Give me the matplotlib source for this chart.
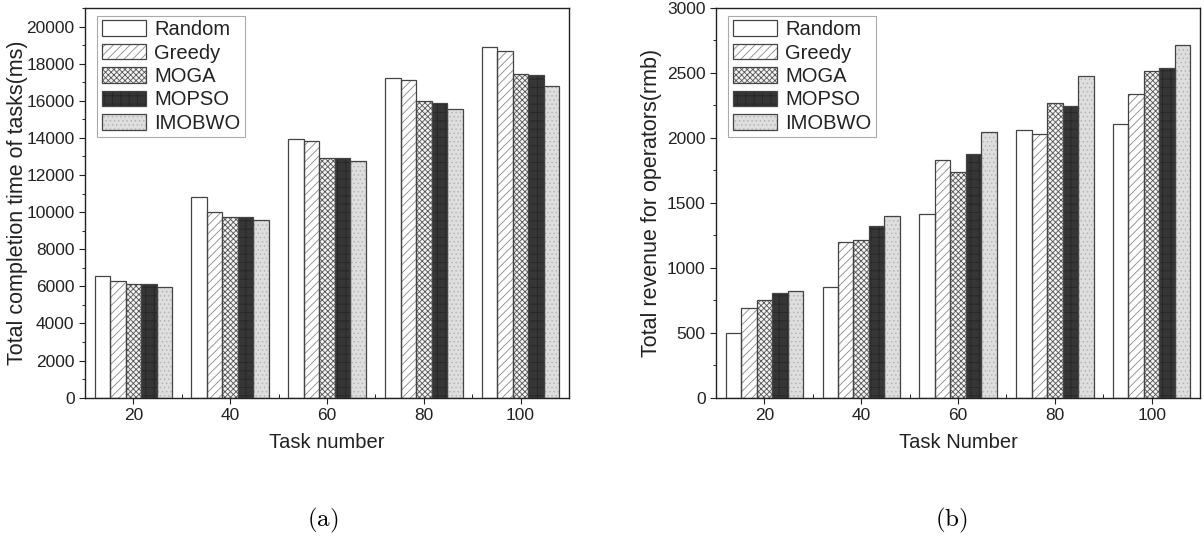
import numpy as np
import matplotlib
matplotlib.use('Agg')
import matplotlib.pyplot as plt
from matplotlib.ticker import MultipleLocator, FixedLocator

plt.rcParams['font.family'] = ['Liberation Sans', 'DejaVu Sans']
plt.rcParams['mathtext.fontset'] = 'cm'
plt.rcParams['hatch.linewidth'] = 0.6

# data
tasks = ['20', '40', '60', '80', '100']
methods = ['Random', 'Greedy', 'MOGA', 'MOPSO', 'IMOBWO']

time_ms = {
    'Random': [6550, 10810, 13950, 17200, 18870],
    'Greedy': [6270, 10020, 13840, 17100, 18660],
    'MOGA':   [6150, 9720, 12890, 15990, 17440],
    'MOPSO':  [6130, 9720, 12890, 15900, 17370],
    'IMOBWO': [5940, 9590, 12740, 15580, 16770],
}
revenue = {
    'Random': [495, 849, 1415, 2059, 2105],
    'Greedy': [687, 1195, 1826, 2033, 2338],
    'MOGA':   [751, 1213, 1741, 2267, 2513],
    'MOPSO':  [803, 1321, 1872, 2244, 2538],
    'IMOBWO': [823, 1395, 2044, 2474, 2713],
}

# fill, hatch, hatch colour for each method
styles = {
    'Random': ('white', '', 'white'),
    'Greedy': ('white', '////', '#888888'),
    'MOGA':   ('#f2f2f2', 'xxxxxx', '#555555'),
    'MOPSO':  ('#363636', '++', '#262626'),
    'IMOBWO': ('#dedede', '....', '#b5b5b5'),
}
outline = '#444444'


def draw(ax, data, ylim, major, minor, ylabel, xlabel, ylab_x):
    x = np.arange(len(tasks))
    w = 0.16
    handles = []
    for i, m in enumerate(methods):
        fc, h, hc = styles[m]
        pos = x + (i - 2) * w
        b1 = ax.bar(pos, data[m], w, color=fc, hatch=h, edgecolor=hc, linewidth=0, zorder=2)
        b2 = ax.bar(pos, data[m], w, fill=False, edgecolor=outline, linewidth=0.9, zorder=3)
        handles.append((b1[0], b2[0]))
    ax.set_xlim(-0.5, len(tasks) - 0.5)
    ax.set_ylim(*ylim)
    ax.set_xticks(x)
    ax.set_xticklabels(tasks)
    ax.xaxis.set_minor_locator(FixedLocator(x[:-1] + 0.5))
    ax.yaxis.set_major_locator(MultipleLocator(major))
    ax.yaxis.set_minor_locator(MultipleLocator(minor))
    ax.tick_params(axis='y', which='major', direction='out', length=4, labelsize=12.5, colors='#222222')
    ax.tick_params(axis='y', which='minor', direction='out', length=2.5)
    ax.tick_params(axis='x', which='major', direction='out', length=4, labelsize=12.5, colors='#222222')
    ax.tick_params(axis='x', which='minor', direction='in', length=3)
    for s in ax.spines.values():
        s.set_linewidth(1.0)
        s.set_color('#222222')
    ax.set_ylabel(ylabel, fontsize=15.5, color='#222222')
    ax.yaxis.set_label_coords(ylab_x, 0.5)
    ax.set_xlabel(xlabel, fontsize=14.5, labelpad=7, color='#222222')
    leg = ax.legend(handles, methods, loc='upper left', bbox_to_anchor=(0.025, 0.98),
                    fontsize=14.5, handlelength=2.2, handleheight=0.8, labelspacing=0.22,
                    handletextpad=0.4, borderpad=0.22, borderaxespad=0.0, fancybox=False,
                    framealpha=1, edgecolor='#aaaaaa')
    leg.get_frame().set_linewidth(0.8)
    for t in leg.get_texts():
        t.set_color('#222222')


fig = plt.figure(figsize=(12.04, 5.38), dpi=100)
ax1 = fig.add_axes([0.0706, 0.2608, 0.402, 0.7244])
ax2 = fig.add_axes([0.5947, 0.2608, 0.402, 0.7244])

draw(ax1, time_ms, (0, 21000), 2000, 1000, 'Total completion time of tasks(ms)', 'Task number', -0.118)
draw(ax2, revenue, (0, 3000), 500, 250, 'Total revenue for operators(rmb)', 'Task Number', -0.112)

fig.text(0.268, 0.032, r'$\mathrm{(a)}$', ha='center', va='center', fontsize=18)
fig.text(0.79, 0.032, r'$\mathrm{(b)}$', ha='center', va='center', fontsize=18)

fig.savefig('out.png', dpi=100)
